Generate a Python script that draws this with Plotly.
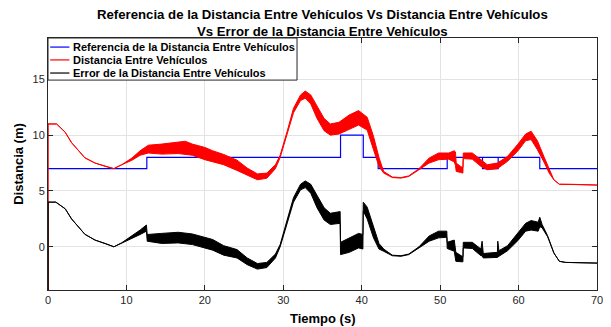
import plotly.graph_objects as go

# ---------------- data ----------------
# Reference distance (step signal)
ref_t = [0, 12.6, 12.6, 37.3, 37.3, 40.2, 40.2, 42.1, 42.1, 50.9, 50.9,
         55.4, 55.4, 57.4, 57.4, 55.4, 57.4, 62.7, 62.7, 70]
ref_v = [7, 7, 8, 8, 10, 10, 8, 8, 7, 7, 8,
         8, 7, 7, 8, 8, 8, 8, 7, 7]

# Distance between vehicles: time, lower and upper envelope of the noisy trace
dist_t = [0, 0, 1.1, 2.2, 3.0, 3.9, 4.7, 6.0, 7.3, 8.4, 9.4, 10.7, 11.75, 12.8,
          14.5, 16.6, 17.5, 18.4, 20.0, 21.0, 22.4, 24.1, 25.4, 26.7, 27.9,
          29.0, 29.6, 30.5, 31.3, 32.2, 32.8, 33.5, 34.3, 35.2, 36.0, 37.1,
          38.4, 39.6, 40.7, 41.5, 42.2, 42.8, 43.9, 45.0, 46.0, 47.3, 48.6,
          49.8, 51.1, 51.8, 51.95, 52.05, 52.6, 52.9, 52.95, 54.1, 55.2, 56.0,
          57.3, 58.6, 59.9, 60.9, 61.6, 62.4, 63.3, 63.9, 64.5, 65.2, 66.7, 70]
dist_lo = [-10, 11, 11, 10.25, 9.33, 8.57, 7.97, 7.5, 7.2, 7.0, 7.35, 7.75, 8.2, 8.4,
           8.3, 8.35, 8.3, 8.2, 7.8, 7.6, 7.35, 6.84, 6.44, 6.0, 6.14,
           7.0, 8.0, 10.15, 12.0, 13.1, 13.3, 12.8, 11.5, 10.4, 10.0, 10.1,
           10.5, 10.9, 10.45, 8.7, 7.2, 6.6, 6.2, 6.15, 6.3, 6.9, 7.5,
           7.8, 7.85, 7.6, 7.3, 6.75, 6.66, 6.6, 7.9, 7.85, 7.2, 6.9,
           7.0, 7.66, 8.57, 9.5, 9.6, 8.7, 7.5, 6.6, 6.0, 5.6, 5.6, 5.53]
dist_hi = [-10, 11, 11, 10.25, 9.33, 8.57, 7.97, 7.5, 7.2, 7.0, 7.35, 7.95, 8.6, 9.1,
           9.2, 9.35, 9.45, 9.2, 8.9, 8.6, 8.27, 7.76, 7.05, 6.53, 6.6,
           7.35, 8.2, 10.35, 12.4, 13.6, 13.95, 13.6, 12.6, 11.5, 11.0, 11.15,
           11.8, 12.2, 11.6, 9.9, 8.0, 6.75, 6.25, 6.2, 6.35, 7.0, 7.95,
           8.4, 8.4, 8.6, 8.5, 7.5, 7.2, 7.1, 8.4, 8.4, 7.8, 7.35,
           7.5, 8.1, 9.18, 10.1, 10.35, 9.5, 7.97, 6.9, 6.0, 5.6, 5.6, 5.53]

# Distance error: time, lower and upper envelope
err_t = [0, 0, 1.0, 2.2, 3.0, 3.9, 4.7, 6.0, 7.3, 8.4, 9.4, 10.7, 11.75, 12.55,
         12.65, 14.5, 16.6, 18.4, 20.0, 21.0, 22.4, 24.1, 25.4, 26.7, 27.9,
         29.0, 29.6, 30.5, 31.3, 32.2, 32.8, 33.5, 34.3, 35.2, 36.0, 37.25,
         37.3, 38.4, 39.6, 40.15, 40.2, 40.7, 41.5, 42.2, 42.8, 43.9, 45.0,
         46.0, 47.3, 48.6, 49.8, 50.85, 50.9, 51.8, 52.0, 52.9, 52.95, 54.1,
         55.2, 55.35, 55.5, 57.3, 57.35, 57.5, 58.6, 59.9, 60.9, 61.6, 62.5,
         62.7, 63.0, 63.7, 64.5, 65.2, 66.0, 70]
err_lo = [-10, 4.0, 4.0, 3.4, 2.5, 1.73, 1.12, 0.6, 0.3, 0.0, 0.36, 0.75, 1.1, 1.4,
          0.5, 0.3, 0.35, 0.2, -0.1, -0.3, -0.75, -1.0, -1.6, -2.0, -1.86,
          -1.0, 0.0, 2.2, 4.0, 5.1, 5.3, 4.8, 3.5, 2.4, 2.0, 2.1,
          -0.7, -0.5, -0.1, -0.2, 3.2, 2.5, 0.8, -0.2, -0.4, -0.8, -0.85,
          -0.7, -0.1, 0.5, 0.8, 0.85, -0.15, -0.4, -1.3, -1.35, -0.1, -0.15,
          -0.8, -0.8, -1.0, -0.95, -0.9, -0.85, -0.35, 0.55, 1.4, 1.5, 1.4,
          1.8, 1.7, 0.9, -0.55, -1.3, -1.4, -1.46]
err_hi = [-10, 4.0, 4.0, 3.4, 2.5, 1.73, 1.12, 0.6, 0.3, 0.0, 0.36, 0.95, 1.5, 1.95,
          1.1, 1.2, 1.3, 1.15, 0.85, 0.65, 0.1, -0.25, -1.0, -1.5, -1.4,
          -0.65, 0.2, 2.4, 4.4, 5.6, 5.9, 5.6, 4.6, 3.5, 3.0, 3.15,
          0.4, 0.8, 1.2, 1.1, 4.0, 3.55, 1.9, 0.3, -0.2, -0.75, -0.8,
          -0.65, 0.0, 0.97, 1.4, 1.4, 0.4, 0.6, -0.5, -0.9, 0.4, 0.4,
          -0.2, 0.5, -0.6, -0.5, 0.5, -0.35, 0.1, 1.2, 2.1, 2.35, 2.2,
          2.65, 2.0, 1.0, -0.55, -1.3, -1.4, -1.46]

x_ticks = [0, 10, 20, 30, 40, 50, 60, 70]
y_ticks = [0, 5, 10, 15]

title_txt = ("<b>Referencia de la Distancia Entre Vehículos Vs Distancia Entre Vehículos</b>"
             "<br><b>Vs Error de la Distancia Entre Vehículos</b>")
x_title = "<b>Tiempo (s)</b>"
y_title = "<b>Distancia (m)</b>"
legend_names = ["Referencia de la Distancia Entre Vehículos",
                "Distancia Entre Vehículos",
                "Error de la Distancia Entre Vehículos"]
colors = ["#0000ff", "#ff0000", "#000000"]

FONT = "Liberation Sans, Arial, Helvetica, sans-serif"


def band(t, lo, hi):
    return list(t) + list(t)[::-1], list(hi) + list(lo)[::-1]


fig = go.Figure()
fig.add_trace(go.Scatter(x=ref_t, y=ref_v, mode="lines", name=legend_names[0],
                         line=dict(color=colors[0], width=1.2), hoverinfo="skip"))
bx, by = band(dist_t, dist_lo, dist_hi)
fig.add_trace(go.Scatter(x=bx, y=by, mode="lines", name=legend_names[1], fill="toself",
                         fillcolor=colors[1], line=dict(color=colors[1], width=1),
                         hoverinfo="skip"))
bx, by = band(err_t, err_lo, err_hi)
fig.add_trace(go.Scatter(x=bx, y=by, mode="lines", name=legend_names[2], fill="toself",
                         fillcolor=colors[2], line=dict(color=colors[2], width=1),
                         hoverinfo="skip"))

axis_common = dict(showgrid=True, gridcolor="#e3e3e3", gridwidth=1, zeroline=False,
                   showline=True, linecolor="#262626", linewidth=1, mirror="allticks",
                   ticks="inside", ticklen=5, tickcolor="#262626", automargin=False,
                   ticklabeloverflow="allow",
                   tickfont=dict(family=FONT, size=11, color="#262626"))

# the page body adds an 8 px margin, so the figure is sized to fit inside it
fig.update_layout(
    width=603, height=319,
    margin=dict(l=40, r=14, t=30, b=37, autoexpand=False),
    paper_bgcolor="white", plot_bgcolor="white",
    showlegend=False,
    xaxis=dict(range=[0, 70], tickvals=x_ticks, **axis_common),
    yaxis=dict(range=[-3.87, 18.7], tickvals=y_ticks,
               title=dict(text=y_title, standoff=5,
                          font=dict(family=FONT, size=13, color="black")),
               **axis_common),
)

# x-axis title placed below the tick labels
fig.add_annotation(xref="paper", yref="paper", x=0.5, y=0.0, yshift=-28,
                   xanchor="center", yanchor="middle", showarrow=False,
                   text=x_title, font=dict(family=FONT, size=13, color="black"))

# two-line bold title above the axes
fig.add_annotation(xref="paper", yref="paper", x=0.5, y=1.0, yshift=-3,
                   xanchor="center", yanchor="bottom", showarrow=False,
                   text=title_txt, align="center",
                   font=dict(family=FONT, size=13.2, color="black"))

# legend box drawn in paper coordinates (compact MATLAB-style legend)
leg_x0, leg_x1, leg_y0, leg_y1 = 0.0, 0.4536, 0.833, 1.0
fig.add_shape(type="rect", xref="paper", yref="paper", x0=leg_x0, x1=leg_x1,
              y0=leg_y0, y1=leg_y1, line=dict(color="#262626", width=1),
              fillcolor="white", layer="above")
entry_y = [0.964, 0.913, 0.861]
for name, col, yy in zip(legend_names, colors, entry_y):
    fig.add_shape(type="line", xref="paper", yref="paper", x0=0.004, x1=0.039,
                  y0=yy, y1=yy, line=dict(color=col, width=1.2), layer="above")
    fig.add_annotation(xref="paper", yref="paper", x=0.042, y=yy, xanchor="left",
                       yanchor="middle", showarrow=False, text="<b>" + name + "</b>",
                       font=dict(family=FONT, size=11, color="black"))

fig.write_html("out.html")
